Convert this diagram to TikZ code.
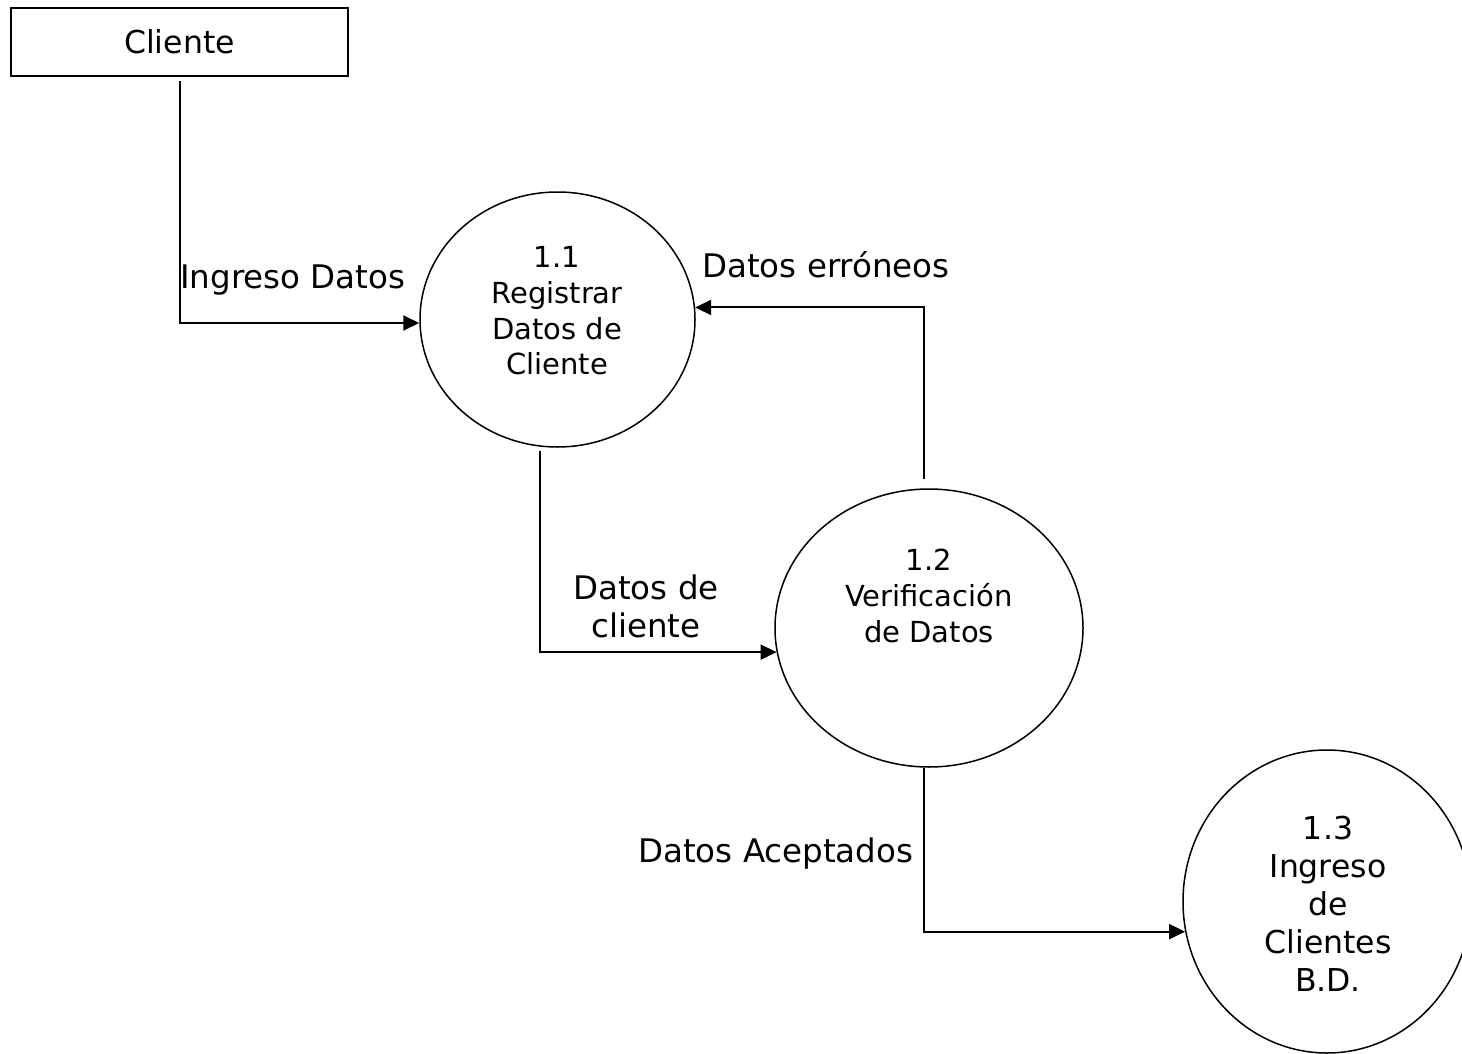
\documentclass[tikz,border=0pt]{standalone}
\usepackage{fontspec}
\setmainfont{DejaVu Sans}
\usetikzlibrary{shapes.geometric,arrows.meta}
\begin{document}
\begin{tikzpicture}[x=1pt,y=-1pt,
  proc/.style={ellipse, draw, line width=1.5pt, inner sep=0pt},
  ent/.style={rectangle, draw, line width=2pt, minimum width=337pt, minimum height=68pt, inner sep=0pt, font=\fontsize{31.5}{38}\selectfont},
  ptxt/.style={align=center, inner sep=0pt, font=\fontsize{29}{35.7}\selectfont},
  ptxtb/.style={align=center, inner sep=0pt, font=\fontsize{31.5}{38}\selectfont},
  lbl/.style={inner sep=0pt, font=\fontsize{32.5}{38}\selectfont},
  flow/.style={line width=2pt, -{Triangle[length=16pt,width=15pt]}}
]
\useasboundingbox (0,0) rectangle (1462,1054);

\node[ent] (cli) at (179.5,42) {Cliente};

\node[proc, minimum width=275pt, minimum height=255pt] (c1) at (557.5,319.5) {};
\node[proc, minimum width=308pt, minimum height=278pt] (c2) at (929,628) {};
\node[proc, minimum width=288pt, minimum height=303pt] (c3) at (1327,901.5) {};

\node[ptxt] (t1) at (557,311) {1.1\\Registrar\\Datos de\\Cliente};
\node[ptxt] (t2) at (929,596) {1.2\\Verificación\\de Datos};
\node[ptxtb] (t3) at (1328,904) {1.3\\Ingreso\\de\\Clientes\\B.D.};

\draw[flow] ([yshift=-4pt]cli.south) |- ([yshift=-3.5pt]c1.west);
\draw[flow] ([xshift=-17.5pt,yshift=-3pt]c1.south) |- (c2.189);
\draw[flow] ([xshift=-5pt,yshift=9pt]c2.north) |- (c1.5);
\draw[flow] ([xshift=-5pt]c2.south) |- (c3.192);

\node[lbl, anchor=base west] (l1) at (180,288) {Ingreso Datos};
\node[lbl, anchor=base west] (l2) at (702,277) {Datos erróneos};
\node[lbl, align=center] (l3) at (646,606) {Datos de\\cliente};
\node[lbl, anchor=base east] (l4) at (913.5,862) {Datos Aceptados};
\end{tikzpicture}
\end{document}
